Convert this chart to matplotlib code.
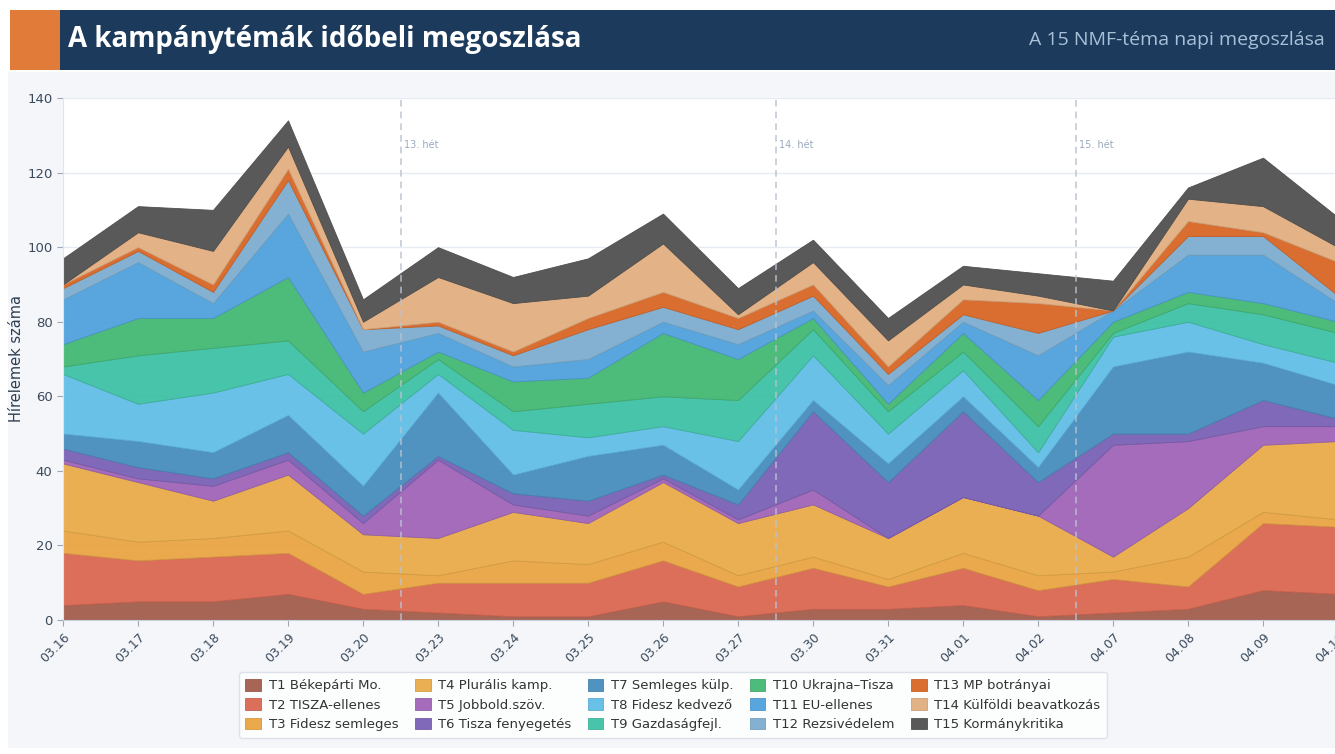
import matplotlib
matplotlib.use('Agg')
import matplotlib.pyplot as plt
import matplotlib.colors as mcolors
from matplotlib.patches import Rectangle
import numpy as np

plt.rcParams['font.family'] = ['DejaVu Sans']

# napok
dates = ['03.16', '03.17', '03.18', '03.19', '03.20', '03.23', '03.24', '03.25', '03.26',
         '03.27', '03.30', '03.31', '04.01', '04.02', '04.07', '04.08', '04.09', '04.10']

topic_names = ['T1 Békepárti Mo.', 'T2 TISZA-ellenes', 'T3 Fidesz semleges',
               'T4 Plurális kamp.', 'T5 Jobbold.szöv.', 'T6 Tisza fenyegetés',
               'T7 Semleges külp.', 'T8 Fidesz kedvező', 'T9 Gazdaságfejl.',
               'T10 Ukrajna–Tisza', 'T11 EU-ellenes', 'T12 Rezsivédelem',
               'T13 MP botrányai', 'T14 Külföldi beavatkozás', 'T15 Kormánykritika']

# napi cikkszám témánként
t1 = [4, 5, 5, 7, 3, 2, 1, 1, 5, 1, 3, 3, 4, 1, 2, 3, 8, 7]
t2 = [14, 11, 12, 11, 4, 8, 9, 9, 11, 8, 11, 6, 10, 7, 9, 6, 18, 18]
t3 = [6, 5, 5, 6, 6, 2, 6, 5, 5, 3, 3, 2, 4, 4, 2, 8, 3, 2]
t4 = [18, 16, 10, 15, 10, 10, 13, 11, 16, 14, 14, 11, 15, 16, 4, 13, 18, 21]
t5 = [1, 1, 4, 4, 3, 21, 2, 2, 1, 1, 4, 0, 0, 0, 30, 18, 5, 4]
t6 = [3, 3, 2, 2, 2, 1, 3, 4, 1, 4, 21, 15, 23, 9, 3, 2, 7, 2]
t7 = [4, 7, 7, 10, 8, 17, 5, 12, 8, 4, 3, 5, 4, 4, 18, 22, 10, 9]
t8 = [16, 10, 16, 11, 14, 5, 12, 5, 5, 13, 12, 8, 7, 4, 8, 8, 5, 6]
t9 = [2, 13, 12, 9, 6, 4, 5, 9, 8, 11, 7, 6, 5, 7, 1, 5, 8, 8]
t10 = [6, 10, 8, 17, 5, 2, 8, 7, 17, 11, 3, 2, 5, 7, 3, 3, 3, 3]
t11 = [12, 15, 4, 17, 11, 5, 4, 5, 3, 4, 2, 5, 3, 12, 3, 10, 13, 5]
t12 = [3, 3, 3, 9, 6, 2, 3, 8, 4, 4, 4, 3, 2, 6, 0, 5, 5, 2]
t13 = [1, 1, 2, 3, 0, 1, 1, 3, 4, 3, 3, 2, 4, 8, 0, 4, 1, 9]
t14 = [0, 4, 9, 6, 2, 12, 13, 6, 13, 1, 6, 7, 4, 2, 0, 6, 7, 4]
t15 = [7, 7, 11, 7, 6, 8, 7, 10, 8, 7, 6, 6, 5, 6, 8, 3, 13, 8]

series = [t1, t2, t3, t4, t5, t6, t7, t8, t9, t10, t11, t12, t13, t14, t15]

colors = ['#a4604f', '#db6a55', '#e9a646', '#e9ad4c', '#a167b9', '#7d64b7',
          '#4a8fbe', '#64bfe8', '#41c2a6', '#47b976', '#52a3dc', '#80afd0',
          '#d9692a', '#e2b083', '#545454']

weeks = [(4.5, '13. hét'), (9.5, '14. hét'), (13.5, '15. hét')]

W, H = 1335, 754
fig = plt.figure(figsize=(W / 100, H / 100), dpi=100, facecolor='white')

# hatter panel + fejlec
fig.patches.append(Rectangle((8 / W, 6 / H), 1, 1 - 78 / H, transform=fig.transFigure,
                             facecolor='#f4f6fa', edgecolor='none', zorder=-10))
fig.patches.append(Rectangle((10 / W, 1 - 70 / H), 1, 60 / H, transform=fig.transFigure,
                             facecolor='#1b3a5c', edgecolor='none', zorder=1))
fig.patches.append(Rectangle((10 / W, 1 - 70 / H), 50 / W, 60 / H, transform=fig.transFigure,
                             facecolor='#e07b3a', edgecolor='none', zorder=2))
fig.text(68 / W, 1 - 40 / H, 'A kampánytémák időbeli megoszlása', color='white',
         fontsize=20, fontweight='bold', family='Open Sans', va='center', ha='left')
fig.text(1325 / W, 1 - 40 / H, 'A 15 NMF-téma napi megoszlása', color='#a9c0d9',
         fontsize=14, family='Open Sans', va='center', ha='right')

ax = fig.add_axes([63 / W, 1 - 620 / H, 1275 / W, 522 / H])
ax.set_zorder(3)
ax.set_facecolor('white')

x = np.arange(len(dates))
polys = ax.stackplot(x, *series, colors=colors, alpha=0.97, labels=topic_names,
                     linewidth=0.6, zorder=2)
for p, c in zip(polys, colors):
    r, g, b = mcolors.to_rgb(c)
    p.set_edgecolor((r * 0.9, g * 0.9, b * 0.9, 0.9))

for pos, lab in weeks:
    ax.axvline(pos, color='#b8c2d0', linestyle=(0, (4, 3)), linewidth=1.2, alpha=0.85, zorder=3)
    ax.text(pos + 0.04, 127.5, lab, color='#9aaabf', fontsize=7, va='center', ha='left', zorder=3)

ax.set_xlim(0, 17)
ax.set_ylim(0, 140)
ax.set_yticks(range(0, 141, 20))
ax.set_xticks(x)
ax.set_xticklabels(dates, rotation=45, ha='right', rotation_mode='anchor', fontsize=9,
                   color='#3a4a5c')
ax.tick_params(axis='y', labelsize=9.5, colors='#3a4a5c', length=4, color='#9aa8b8')
ax.tick_params(axis='x', length=4, color='#9aa8b8')
ax.grid(axis='y', color='#e6ebf2', linewidth=1, zorder=0)
ax.set_axisbelow(True)
for s in ['top', 'right']:
    ax.spines[s].set_visible(False)
ax.spines['left'].set_color('#dfe5ee')
ax.spines['bottom'].set_color('#c9d1dc')
ax.set_ylabel('Hírelemek száma', fontsize=10.5, color='#2c3e50', labelpad=2)

leg = fig.legend(handles=polys, labels=topic_names, ncol=5, loc='center',
                 bbox_to_anchor=(673 / W, 1 - 705 / H), fontsize=9.5, frameon=True,
                 handlelength=1.2, handleheight=1.0, columnspacing=1.2,
                 handletextpad=0.6, labelspacing=0.45, borderpad=0.5)
leg.get_frame().set_edgecolor('#d5dce6')
leg.get_frame().set_facecolor('white')
for t in leg.get_texts():
    t.set_color('#333333')

fig.savefig('out.png', dpi=100, facecolor=fig.get_facecolor())
